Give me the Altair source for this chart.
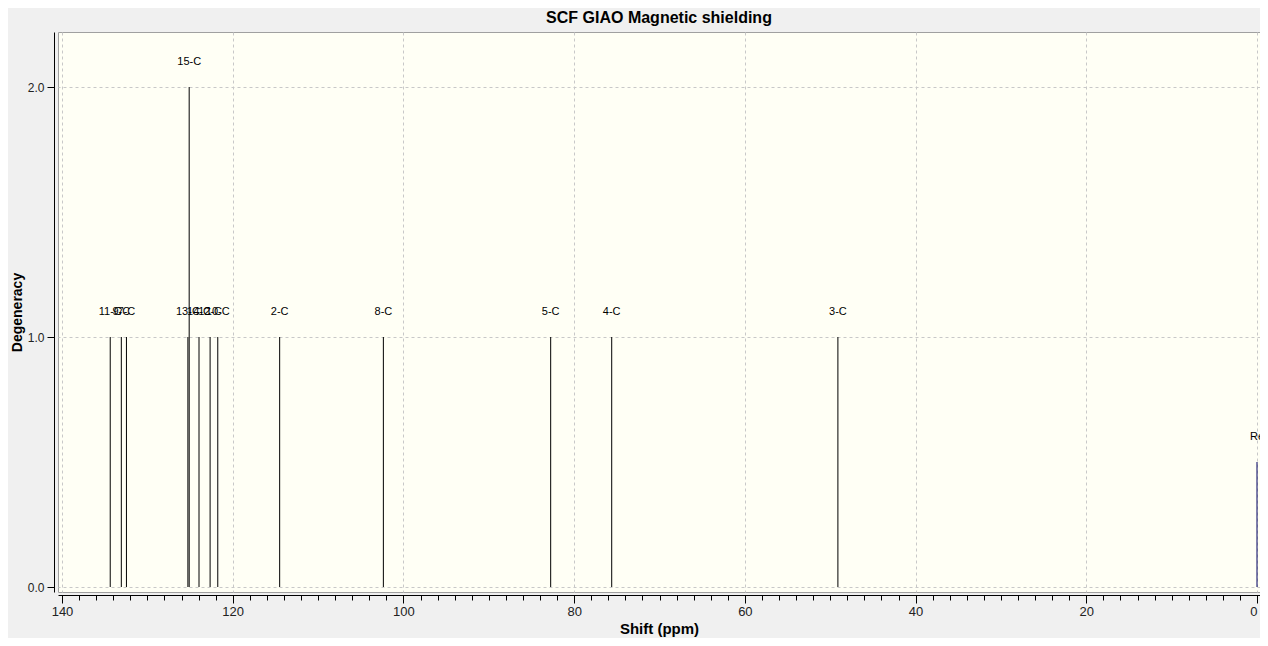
import altair as alt
import pandas as pd

labels = ["11-C", "9-C", "7-C", "13-C", "15-C", "14-C", "12-C", "10-C",
          "2-C", "8-C", "5-C", "4-C", "3-C", "Re"]
shifts = [134.35, 133.05, 132.45, 125.25, 125.1, 123.95, 122.65, 121.75,
          114.5, 102.35, 82.75, 75.6, 49.1, 0.0]
degeneracy = [1, 1, 1, 1, 2, 1, 1, 1, 1, 1, 1, 1, 1, 0.5]
colors = ["black"] * 13 + ["#000060"]

df = pd.DataFrame({"label": labels, "shift": shifts, "deg": degeneracy, "color": colors})
df["ylab"] = df["deg"] + 0.1

x_ticks = list(range(0, 141, 2))
FONT = "Liberation Sans"

xscale = alt.Scale(domain=[-0.351, 140.469], reverse=True, nice=False, zero=False)
yscale = alt.Scale(domain=[-0.02, 2.22], nice=False, zero=False)

xaxis = alt.Axis(
    title="Shift (ppm)", values=x_ticks, tickCount=500,
    labelExpr="datum.value % 20 == 0 ? format(datum.value, 'd') : ''",
    labelAlign={"condition": {"test": "datum.value == 0", "value": "right"}, "value": "center"},
    tickSize={"condition": {"test": "datum.value % 20 == 0", "value": 8}, "value": 5},
    gridOpacity={"condition": {"test": "datum.value % 20 == 0", "value": 1}, "value": 0},
    grid=True, gridColor="#C8C8C8", gridDash=[3, 3], gridWidth=1,
    offset=3, domainColor="black", tickColor="black",
    labelFont=FONT, labelFontSize=13, labelColor="#222", labelPadding=2,
    labelOverlap=False, labelFlush=False,
    titleFont=FONT, titleFontSize=15, titleFontWeight="bold", titleColor="black", titlePadding=3,
)
yaxis = alt.Axis(
    title="Degeneracy", values=[0, 1, 2], format=".1f",
    grid=True, gridColor="#C8C8C8", gridDash=[3, 3], gridWidth=1,
    offset=4, domainColor="black", tickColor="black", tickSize=7,
    labelFont=FONT, labelFontSize=12, labelColor="#222", labelPadding=3,
    titleFont=FONT, titleFontSize=14, titleFontWeight="bold", titleColor="black", titlePadding=3,
)

base = alt.Chart(df)
sticks = base.mark_rule(strokeWidth=1, clip=True).encode(
    x=alt.X("shift:Q", scale=xscale, axis=xaxis),
    y=alt.Y("deg:Q", scale=yscale, axis=yaxis),
    y2=alt.datum(0),
    color=alt.Color("color:N", scale=None),
)
texts = base.mark_text(fontSize=11, font=FONT, color="black", baseline="middle", clip=True).encode(
    x=alt.X("shift:Q", scale=xscale),
    y=alt.Y("ylab:Q", scale=yscale),
    text="label:N",
)

chart = alt.layer(sticks, texts).properties(
    width=1202, height=560,
    autosize=alt.AutoSizeParams(type="none"),
    padding={"left": 50, "top": 24, "right": 0, "bottom": 46},
    title=alt.TitleParams("SCF GIAO Magnetic shielding", font=FONT, fontSize=16,
                          fontWeight="bold", color="black", anchor="middle", offset=6),
).configure(background="#F0F0F0").configure_view(
    fill="#FFFFF5", stroke="#A0A0A0", strokeWidth=1
)

chart.save("out.html", embed_options={"renderer": "svg", "actions": False})
